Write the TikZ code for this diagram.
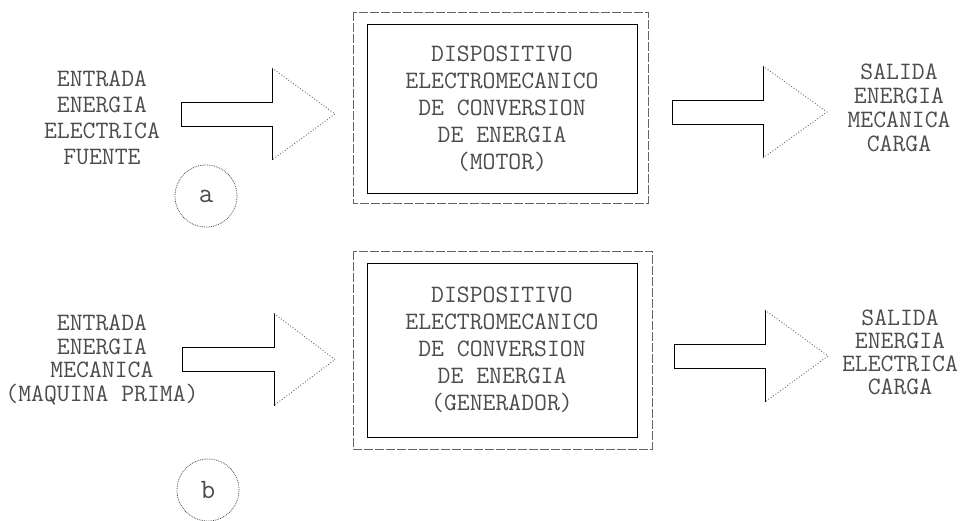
\documentclass[tikz,border=0pt]{standalone}
\usepackage{fontspec}
\usetikzlibrary{positioning}

\tikzset{
  txt/.style={align=center, text=black!70, font=\ttfamily\fontsize{25}{26}\selectfont},
  devbox/.style={draw, line width=0.9pt, minimum width=270pt, minimum height=169pt,
    align=center, text=black!70, font=\ttfamily\fontsize{25}{27}\selectfont},
  outline/.style={dash pattern=on 9pt off 2pt, black!60, line width=0.8pt},
  shaft/.style={line width=0.9pt},
  headline/.style={dotted, black!60, line width=0.9pt},
  tag/.style={circle, draw=black!70, densely dotted, line width=0.8pt, text=black!70,
    minimum size=62pt, inner sep=0pt, font=\ttfamily\fontsize{28}{28}\selectfont}
}

\begin{document}
\begin{tikzpicture}[x=1pt,y=-1pt]
\fill[white] (0,0) rectangle (964,521);
\useasboundingbox (0,0) rectangle (964,521);

% (a) motor
\node[txt] (inA) at (102,117.5) {ENTRADA\\ENERGIA\\ELECTRICA\\FUENTE};
\node[devbox] (devA) at (502,108.5) {DISPOSITIVO\\ELECTROMECANICO\\DE CONVERSION\\DE ENERGIA\\(MOTOR)};
\draw[outline] (353,12) rectangle (648,203);
\node[txt, font=\ttfamily\fontsize{25}{24}\selectfont] (outA) at (899,108) {SALIDA\\ENERGIA\\MECANICA\\CARGA};
\node[tag] (labA) at (206,196) {a};

% (b) generador
\node[txt, font=\ttfamily\fontsize{25}{23.5}\selectfont] (inB) at (102,360) {ENTRADA\\ENERGIA\\MECANICA\\(MAQUINA PRIMA)};
\node[devbox, minimum height=174pt] (devB) at (502,350) {DISPOSITIVO\\ELECTROMECANICO\\DE CONVERSION\\DE ENERGIA\\(GENERADOR)};
\draw[outline] (353,251) rectangle (652,449);
\node[txt, font=\ttfamily\fontsize{25}{23}\selectfont] (outB) at (900,352) {SALIDA\\ENERGIA\\ELECTRICA\\CARGA};
\node[tag] (labB) at (208,490) {b};

% block arrows
\foreach \xs/\xb/\xt/\yc in {181/272/335/114, 672/763/827/112, 182/274/335/359.5, 674/765/828/356}{
  \draw[shaft] (\xb,\yc-46) -- (\xb,\yc-12) -- (\xs,\yc-12) -- (\xs,\yc+12) -- (\xb,\yc+12) -- (\xb,\yc+46);
  \draw[headline] (\xb,\yc-46) -- (\xt,\yc) -- (\xb,\yc+46);
}
\end{tikzpicture}
\end{document}
